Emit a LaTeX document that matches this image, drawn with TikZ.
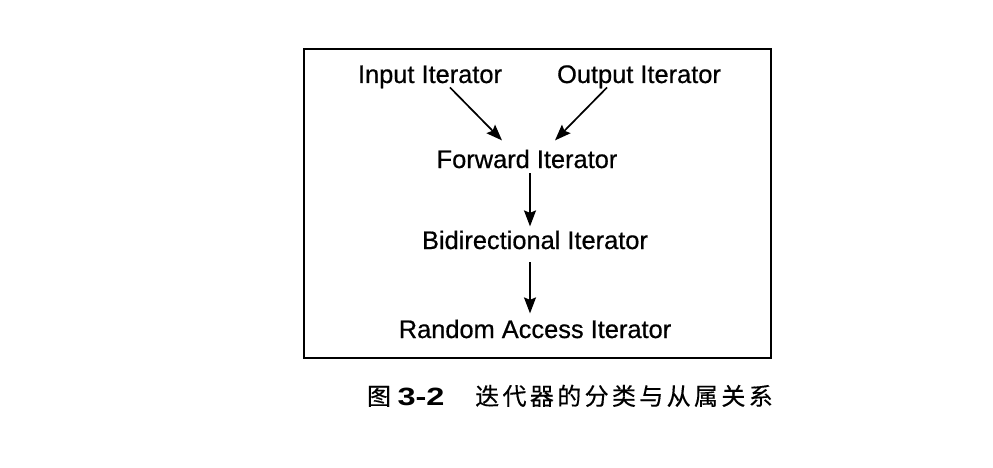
\documentclass[tikz,border=0pt]{standalone}
\usepackage{fontspec}
\usepackage{graphicx}
\setmainfont{Liberation Sans}
\newfontfamily\labelfont[FakeBold=0.6]{Liberation Sans}
\newfontfamily\cjk[LetterSpace=14,FakeBold=0.4]{Noto Sans CJK SC}
\newfontfamily\cjkplain[FakeBold=0.4]{Noto Sans CJK SC}
\usetikzlibrary{arrows.meta}
\begin{document}
\begin{tikzpicture}[x=1pt, y=-1pt, >={Stealth[length=16pt,width=12pt,inset=2.5pt]},
  iter/.style={anchor=base, inner sep=1pt, font=\labelfont\fontsize{25.4}{30}\selectfont},
  link/.style={->, line width=1.7pt}]
\useasboundingbox (0,0) rectangle (993,468);
\draw[line width=2.4pt] (304,49) rectangle (771,358);
\node[iter] (in) at (430,83) {Input Iterator};
\node[iter] (out) at (639,83) {Output Iterator};
\node[iter] (fwd) at (527,168) {Forward Iterator};
\node[iter] (bi) at (535,249) {Bidirectional Iterator};
\node[iter] (rnd) at (535,338) {Random Access Iterator};
\draw[link] ([xshift=20pt,yshift=2pt]in.south) -- ([xshift=-25pt,yshift=8pt]fwd.north);
\draw[link] ([xshift=-32pt,yshift=2pt]out.south) -- ([xshift=28pt,yshift=8pt]fwd.north);
\draw[link] ([xshift=3pt,yshift=-4pt]fwd.south) -- ([xshift=3pt,yshift=3pt]fwd.south |- bi.north);
\draw[link] ([xshift=-5pt,yshift=-12pt]bi.south) -- ([xshift=-5pt,yshift=5pt]bi.south |- rnd.north);
% caption
\node[anchor=base, inner sep=0pt, font=\cjkplain\fontsize{24}{28}\selectfont] (fig) at (379,405) {图};
\node[anchor=base, inner sep=0pt, font=\bfseries\fontsize{25}{28}\selectfont] (num) at (421,405) {\scalebox{1.3}[1]{3-2}};
\node[anchor=base west, inner sep=0pt, font=\cjk\fontsize{24}{28}\selectfont] (cap) at (475,405) {迭代器的分类与从属关系};
\end{tikzpicture}
\end{document}
